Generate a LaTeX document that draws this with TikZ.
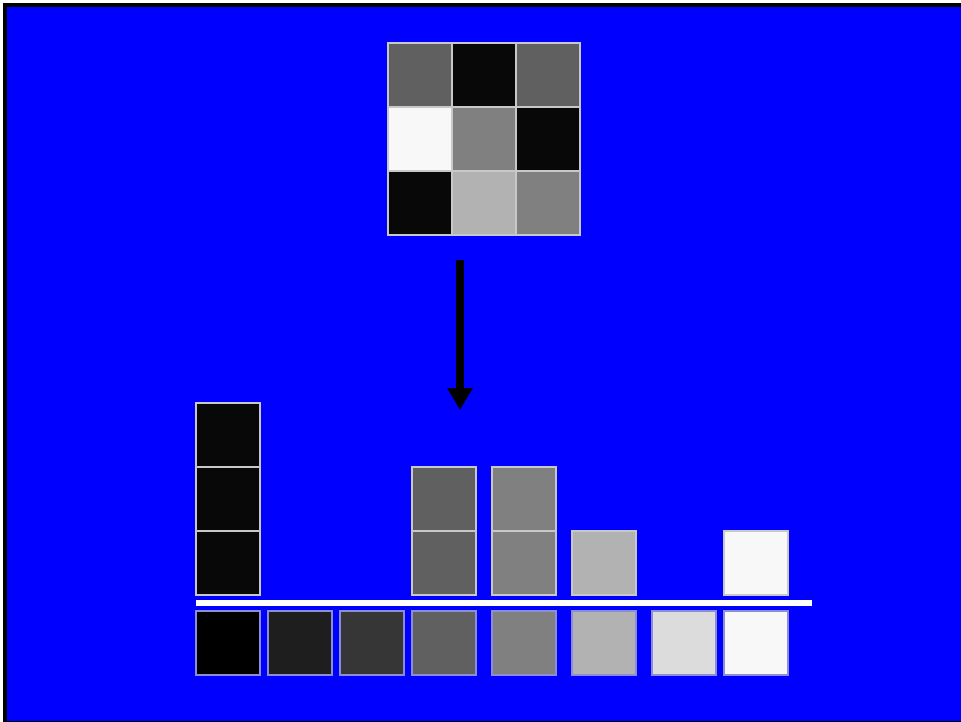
\documentclass[tikz,border=0pt]{standalone}
\usepackage{xcolor}
\usepackage{tikz}
\usetikzlibrary{arrows.meta,positioning,calc}

\definecolor{px0}{HTML}{000000}
\definecolor{px1}{HTML}{1E1E1E}
\definecolor{px2}{HTML}{363636}
\definecolor{px3}{HTML}{606060}
\definecolor{px4}{HTML}{808080}
\definecolor{px5}{HTML}{B2B2B2}
\definecolor{px6}{HTML}{DCDCDC}
\definecolor{px7}{HTML}{F8F8F8}
\definecolor{pxd}{HTML}{080808}
\definecolor{edge}{HTML}{C8C8C8}

\begin{document}
\begin{tikzpicture}[
  x=1pt,y=-1pt,
  cell/.style={draw=edge,line width=1.2pt,minimum size=64pt,inner sep=0pt,outer sep=0pt},
  bar/.style={cell,draw=edge!70!blue},
  axis/.style={white,line width=6pt},
  line/.style={-{Triangle[width=24pt,length=22pt]},line width=8pt,black}
]

\useasboundingbox (0,0) rectangle (961,721);

% ---- frame ----
\fill[white] (0,0) rectangle (961,721);
\draw[line width=4pt,fill=blue] (5,5) rectangle (966,723);

% ---- image (3x3) ----
\foreach \i/\col in {1/px3,2/pxd,3/px3}
  \node[cell,fill=\col] (a1\i) at (356+64*\i,75) {};
\foreach \i/\col in {1/px7,2/px4,3/pxd}
  \node[cell,fill=\col] (a2\i) at (356+64*\i,139) {};
\foreach \i/\col in {1/pxd,2/px5,3/px4}
  \node[cell,fill=\col] (a3\i) at (356+64*\i,203) {};

% ---- arrow ----
\coordinate (top) at ($(a32.south)+(-24,25)$);
\coordinate (tip) at ($(top)+(0,150)$);
\draw[line] (top) -- (tip);

% ---- gray levels ----
\foreach \k/\x/\col in {0/228/px0,1/300/px1,2/372/px2,3/444/px3,4/524/px4,5/604/px5,6/684/px6,7/756/px7}
  \node[bar,fill=\col] (lv\k) at (\x,643) {};

% ---- axis ----
\coordinate (ax) at (812,603);
\draw[axis] (lv0.west |- ax) -- (ax);

% ---- counts ----
\foreach \j in {1,2,3}
  \node[cell,fill=pxd] (h0\j) at (228,627-64*\j) {};
\foreach \j in {1,2}
  \node[cell,fill=px3] (h3\j) at (444,627-64*\j) {};
\foreach \j in {1,2}
  \node[cell,fill=px4] (h4\j) at (524,627-64*\j) {};
\node[cell,fill=px5] (h51) at (604,563) {};
\node[cell,fill=px7] (h71) at (756,563) {};

\end{tikzpicture}
\end{document}
